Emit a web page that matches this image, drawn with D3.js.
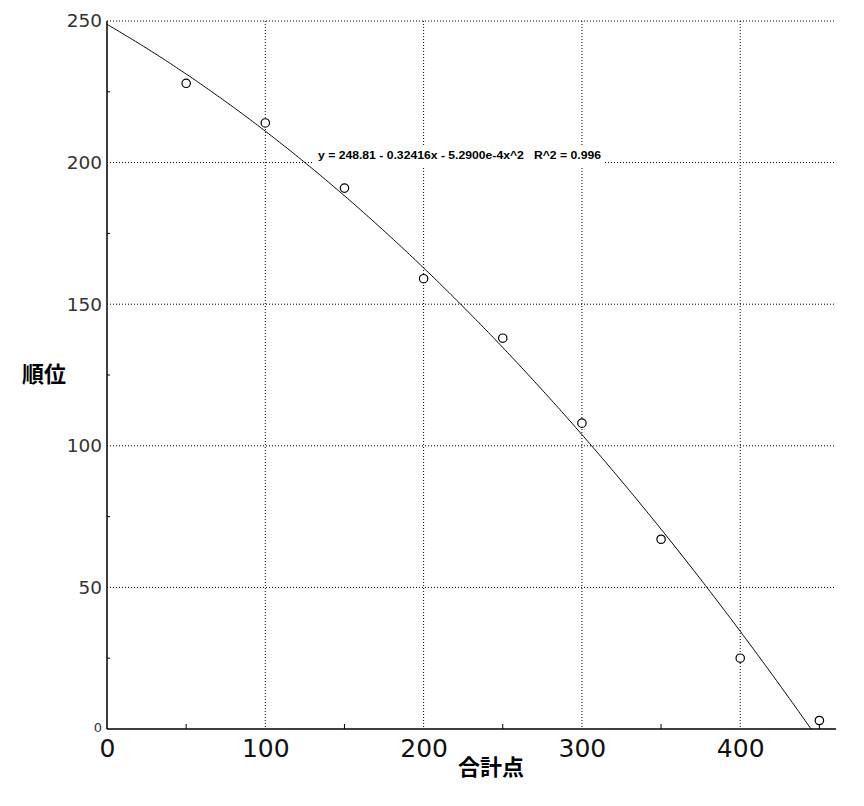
<!DOCTYPE html>
<html><head><meta charset="utf-8">
<script src="https://cdn.jsdelivr.net/npm/d3@7"></script>
<style>body{margin:0;background:#fff}svg{display:block}</style>
</head><body>
<svg id="c" width="864" height="806"></svg>
<script>
const xValues = [50, 100, 150, 200, 250, 300, 350, 400, 450];
const yValues = [228, 214, 191, 159, 138, 108, 67, 25, 3];
const xMajorTicks = [0, 100, 200, 300, 400];
const xMinorTicks = [50, 150, 250, 350, 450];
const yMajorTicks = [0, 50, 100, 150, 200, 250];
const yMinorTicks = [25, 75, 125, 175, 225];
const fitCoef = [248.81, -0.32416, -5.29e-4];
const equationText = "y = 248.81 - 0.32416x - 5.2900e-4x^2   R^2 = 0.996";
const xTitle = "合計点";
const yTitle = "順位";

const L = 107, R = 836, T = 21, B = 729;
const x = d3.scaleLinear().domain([0, 460.5]).range([L, R]);
const y = d3.scaleLinear().domain([0, 250]).range([B, T]);
const svg = d3.select("#c");

// grid
svg.append("g").selectAll("line").data(xMajorTicks.filter(d => d > 0)).join("line")
  .attr("x1", d => x(d)).attr("x2", d => x(d)).attr("y1", T).attr("y2", B)
  .attr("stroke", "#000").attr("stroke-width", 1).attr("stroke-dasharray", "1,2");
svg.append("g").selectAll("line").data(yMajorTicks.filter(d => d > 0)).join("line")
  .attr("x1", L).attr("x2", R).attr("y1", d => y(d)).attr("y2", d => y(d))
  .attr("stroke", "#000").attr("stroke-width", 1).attr("stroke-dasharray", "1,2");

// fit curve
const f = v => fitCoef[0] + fitCoef[1] * v + fitCoef[2] * v * v;
const pts = d3.range(0, 460.5, 1).map(v => [v, f(v)]).filter(p => p[1] >= 0);
const a = fitCoef[2], b = fitCoef[1], c = fitCoef[0];
const root = (-b - Math.sqrt(b * b - 4 * a * c)) / (2 * a);
pts.push([root, 0]);
svg.append("path").datum(pts)
  .attr("d", d3.line().x(p => x(p[0])).y(p => y(p[1])))
  .attr("fill", "none").attr("stroke", "#000").attr("stroke-width", 1);

// equation label with white box
const eq = svg.append("g");
const eqRect = eq.append("rect").attr("fill", "#fff");
const eqText = eq.append("text").attr("x", 318).attr("y", 159)
  .attr("font-family", "Liberation Sans, Arial, sans-serif").attr("font-size", 11.5).attr("font-weight", "bold")
  .attr("textLength", 283).attr("lengthAdjust", "spacingAndGlyphs")
  .attr("xml:space", "preserve").style("white-space", "pre").text(equationText);
eqRect.attr("x", 314).attr("y", 146).attr("width", 291).attr("height", 20);

// axes
const xAxis = svg.append("g").attr("transform", `translate(0,${B})`)
  .call(d3.axisBottom(x).tickValues(xMajorTicks).tickSize(0).tickPadding(10).tickFormat(d3.format("d")));
xAxis.select(".domain").attr("stroke-width", 1.5).attr("d", `M${L},0H${R}`);
xAxis.selectAll("text").attr("font-family", "DejaVu Sans, sans-serif").attr("font-size", 25).attr("fill", "#111");
const yAxis = svg.append("g").attr("transform", `translate(${L},0)`)
  .call(d3.axisLeft(y).tickValues(yMajorTicks).tickSize(0).tickPadding(5).tickFormat(d3.format("d")));
yAxis.select(".domain").attr("stroke-width", 1.5).attr("d", `M0,${T}V${B}`);
yAxis.selectAll("text").attr("font-family", "DejaVu Sans, sans-serif").attr("font-size", 18.5).attr("fill", "#333");
yAxis.selectAll(".tick").filter(d => d === 0).select("text").attr("font-size", 13).attr("dy", "0.2em");

// minor ticks
svg.append("g").selectAll("line").data(xMinorTicks).join("line")
  .attr("x1", d => x(d)).attr("x2", d => x(d)).attr("y1", B).attr("y2", B - 5)
  .attr("stroke", "#000").attr("stroke-width", 1);
svg.append("g").selectAll("line").data(yMinorTicks).join("line")
  .attr("x1", L).attr("x2", L + 3).attr("y1", d => y(d)).attr("y2", d => y(d))
  .attr("stroke", "#000").attr("stroke-width", 1);

// points
svg.append("g").selectAll("circle").data(xValues.map((v, i) => [v, yValues[i]])).join("circle")
  .attr("cx", d => x(d[0])).attr("cy", d => y(d[1])).attr("r", 4.2)
  .attr("fill", "#fff").attr("stroke", "#000").attr("stroke-width", 1.2);

// titles
svg.append("text").attr("x", 491).attr("y", 775).attr("text-anchor", "middle")
  .attr("font-family", "Noto Sans CJK JP, sans-serif").attr("font-size", 22).attr("font-weight", "bold")
  .text(xTitle);
svg.append("text").attr("x", 44).attr("y", 382).attr("text-anchor", "middle")
  .attr("font-family", "Noto Sans CJK JP, sans-serif").attr("font-size", 22).attr("font-weight", "bold")
  .text(yTitle);
</script>
</body></html>
